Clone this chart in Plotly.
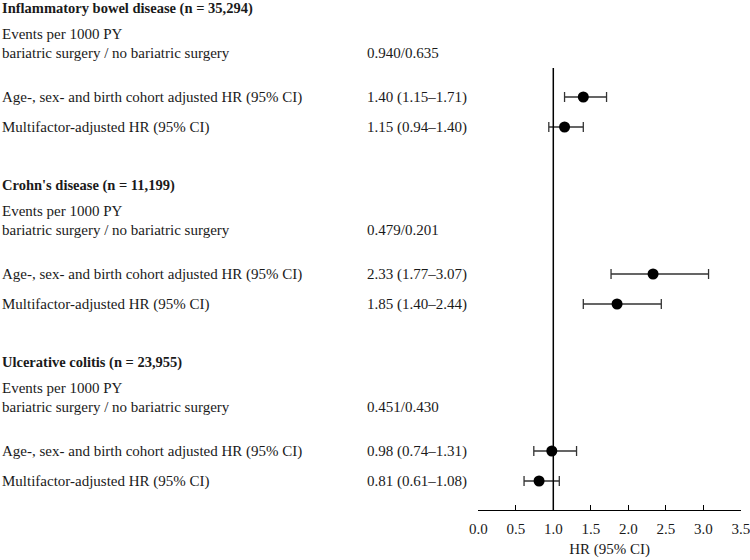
import plotly.graph_objects as go

# ---- data ----
section_titles = [
    "Inflammatory bowel disease (n = 35,294)",
    "Crohn's disease (n = 11,199)",
    "Ulcerative colitis (n = 23,955)",
]
events_per_1000py = ["0.940/0.635", "0.479/0.201", "0.451/0.430"]

hr_age = [1.40, 2.33, 0.98]
lo_age = [1.15, 1.77, 0.74]
hi_age = [1.71, 3.07, 1.31]

hr_multi = [1.15, 1.85, 0.81]
lo_multi = [0.94, 1.40, 0.61]
hi_multi = [1.40, 2.44, 1.08]

tick_vals = [0.0, 0.5, 1.0, 1.5, 2.0, 2.5, 3.0, 3.5]
tick_text = ["0.0", "0.5", "1.0", "1.5", "2.0", "2.5", "3.0", "3.5"]

label_events_1 = "Events per 1000 PY"
label_events_2 = "bariatric surgery / no bariatric surgery"
label_age = "Age-, sex- and birth cohort adjusted HR (95% CI)"
label_multi = "Multifactor-adjusted HR (95% CI)"

# ---- layout constants (vertical row positions in pixel-like units) ----
W, H = 750, 560
section_start = [8, 185, 362]
off_title, off_ev1, off_ev2, off_age, off_multi = 0, 26, 45, 89, 119
axis_y = 510
FONT = "Liberation Serif"
FS = 15
TXT = "#1a1a1a"

fig = go.Figure()

age_y = [s + off_age for s in section_start]
multi_y = [s + off_multi for s in section_start]

def fmt(h, l, u):
    return f"{h:.2f} ({l:.2f}\u2013{u:.2f})"

for hr, lo, hi, ys in [(hr_age, lo_age, hi_age, age_y), (hr_multi, lo_multi, hi_multi, multi_y)]:
    fig.add_trace(go.Scatter(
        x=hr, y=ys, mode="markers",
        marker=dict(color="black", size=11),
        error_x=dict(type="data", symmetric=False,
                     array=[h - m for h, m in zip(hi, hr)],
                     arrayminus=[m - l for m, l in zip(hr, lo)],
                     color="#333333", thickness=1.3, width=5),
        showlegend=False, hoverinfo="skip", cliponaxis=False,
    ))

annotations = []
def add_text(x_px, y, text, bold=False, size=FS):
    annotations.append(dict(
        x=x_px / W, y=y, xref="paper", yref="y", text=f"<b>{text}</b>" if bold else text,
        showarrow=False, xanchor="left", yanchor="middle",
        font=dict(family=FONT, size=size, color=TXT),
    ))

val_x = 365
for i, s in enumerate(section_start):
    add_text(0, s + off_title, section_titles[i], bold=True, size=14.5)
    add_text(0, s + off_ev1, label_events_1)
    add_text(0, s + off_ev2, label_events_2)
    add_text(val_x, s + off_ev2, events_per_1000py[i])
    add_text(0, s + off_age, label_age)
    add_text(val_x, s + off_age, fmt(hr_age[i], lo_age[i], hi_age[i]))
    add_text(0, s + off_multi, label_multi)
    add_text(val_x, s + off_multi, fmt(hr_multi[i], lo_multi[i], hi_multi[i]))

fig.add_shape(type="line", xref="x", yref="y", x0=1.0, x1=1.0, y0=68, y1=axis_y,
              line=dict(color="black", width=1.5))

fig.update_layout(
    template="none",
    width=W, height=H,
    margin=dict(l=0, r=0, t=0, b=H - axis_y, pad=0),
    plot_bgcolor="white", paper_bgcolor="white",
    annotations=annotations,
    font=dict(family=FONT, size=FS, color=TXT),
    xaxis=dict(
        automargin=False,
        domain=[478.3 / W, 740.8 / W], range=[0, 3.5],
        tickvals=tick_vals, ticktext=tick_text,
        ticks="inside", ticklen=5, tickcolor="black", tickwidth=1,
        ticklabelstandoff=5, ticklabeloverflow="allow",
        showline=True, linecolor="black", linewidth=1,
        showgrid=False, zeroline=False,
        tickfont=dict(family=FONT, size=FS, color=TXT),
        title=dict(text="HR (95% CI)", font=dict(family=FONT, size=FS, color=TXT), standoff=7),
    ),
    yaxis=dict(automargin=False, range=[axis_y, 0], visible=False, showgrid=False, zeroline=False),
)

fig.write_html(
    "out.html",
    config={"displayModeBar": False, "staticPlot": True},
    post_script="document.body.style.margin='0';document.body.style.overflow='hidden';",
)
